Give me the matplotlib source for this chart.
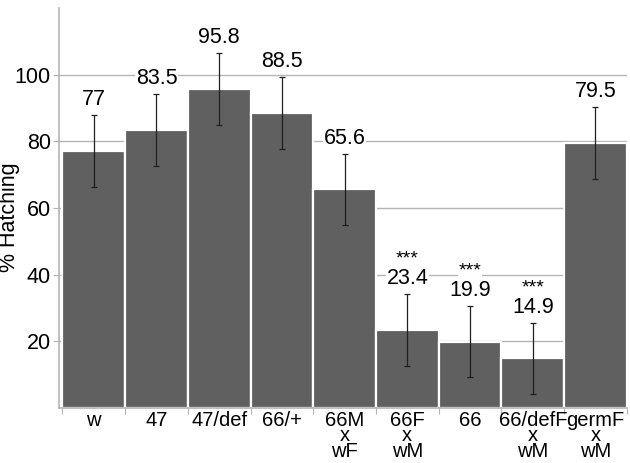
import matplotlib.pyplot as plt

plt.rcParams["font.family"] = ["Liberation Sans", "DejaVu Sans"]

categories = ["w", "47", "47/def", "66/+", "66M\nx\nwF", "66F\nx\nwM", "66", "66/defF\nx\nwM", "germF\nx\nwM"]
hatching = [77, 83.5, 95.8, 88.5, 65.6, 23.4, 19.9, 14.9, 79.5]
errors = [10.8, 10.8, 10.8, 10.8, 10.7, 10.8, 10.7, 10.7, 10.8]
stars = ["", "", "", "", "", "***", "***", "***", ""]

fig = plt.figure(figsize=(6.3, 4.63), dpi=100)
ax = fig.add_axes([0.094, 0.119, 0.901, 0.864])

x = list(range(len(categories)))
ax.bar(x, hatching, width=1.0, color="#606060", edgecolor="white", linewidth=1.6, zorder=2)
ax.errorbar(x, hatching, yerr=errors, fmt="none", ecolor="#202020", elinewidth=0.9,
            capsize=2.5, capthick=0.9, zorder=3)

# value labels and significance stars above error bars
box = dict(facecolor="white", edgecolor="none", pad=0.5)
for xi, v, e, s in zip(x, hatching, errors, stars):
    ax.annotate(f"{v:g}", (xi, v + e), xytext=(0, 11), textcoords="offset points",
                ha="center", va="center", fontsize=15.5, bbox=box, zorder=4)
    if s:
        ax.annotate(s, (xi, v + e), xytext=(0, 25), textcoords="offset points",
                    ha="center", va="center", fontsize=14, bbox=box, zorder=4)

ax.set_xlim(-0.55, 8.5)
ax.set_ylim(0, 120)
ax.set_yticks([20, 40, 60, 80, 100])
ax.yaxis.grid(True, color="#b4b4b4", linewidth=1.0, zorder=0)
ax.set_axisbelow(True)

# ticks at bar boundaries, labels at bar centres
ax.set_xticks([i - 0.5 for i in range(len(categories) + 1)])
ax.set_xticklabels([])
ax.set_xticks(x, minor=True)
ax.set_xticklabels(categories, minor=True, fontsize=14.5, linespacing=0.78, va="top")
ax.tick_params(axis="x", which="minor", length=0, pad=2)
ax.tick_params(axis="x", which="major", length=4, color="#b4b4b4")
ax.tick_params(axis="y", length=4, color="#b4b4b4", labelsize=15.5, pad=2)

for side in ["top", "right"]:
    ax.spines[side].set_visible(False)
for side in ["left", "bottom"]:
    ax.spines[side].set_color("#b4b4b4")
    ax.spines[side].set_linewidth(1.2)

ax.set_ylabel("% Hatching", fontsize=15.5)
ax.yaxis.set_label_coords(-0.069, 0.477)

fig.savefig("out.png", dpi=100)
